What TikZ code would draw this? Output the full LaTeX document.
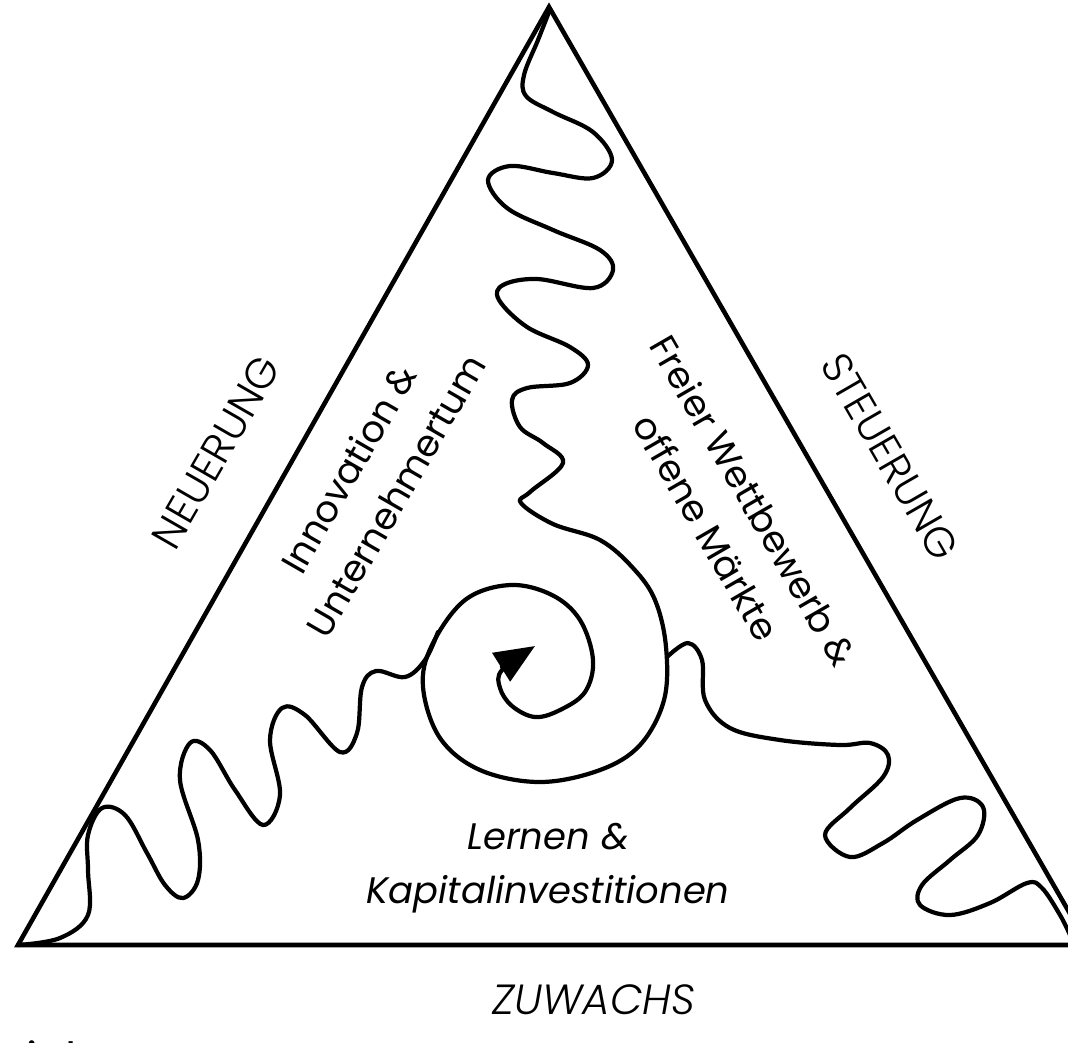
\documentclass[tikz,border=0pt]{standalone}
\usepackage{fontspec}
\setsansfont{Poppins}
\IfFontExistsTF{Poppins Light}
  {\newfontfamily\thinfont{Poppins Light}}
  {\newfontfamily\thinfont{Poppins}}
\usetikzlibrary{arrows.meta}
\tikzset{
  edge/.style={line width=1.3pt,line join=miter},
  wave/.style={line width=1.2pt,line cap=round,line join=round},
  sidelab/.style={font=\thinfont\fontsize{12}{14}\selectfont},
  fieldlab/.style={font=\sffamily\fontsize{10.5}{15.5}\selectfont,align=center},
}

\begin{document}
\begin{tikzpicture}[x=0.01cm,y=-0.01cm]
  \useasboundingbox (0,0) rectangle (1068,1042);
  % Dreieck
  \coordinate (apex) at (549,7);
  \coordinate (bl) at (18,945);
  \coordinate (br) at (1088,945);
  \draw[edge] (apex) -- (bl) -- (br) -- cycle;
  % Welle von oben in die Spirale
  \draw[wave,-{Triangle[length=4mm,width=3.3mm]}] plot[smooth,tension=0.6] coordinates {
    (549,12) (538,40) (524,75) (526,96) (553,112) (593,132) (612,160)
    (593,178) (553,173) (510,166) (488,180) (507,208) (553,230) (600,250)
    (613,270) (593,288) (537,279) (503,285) (499,300) (527,327) (570,347)
    (588,365) (570,383) (527,388) (512,400) (520,427) (543,443) (563,463)
    (530,492) (521,503) (553,524) (600,540) (633,568) (655,600) (666,647)
    (664,700) (640,745) (600,770) (540,782) (480,770) (440,738) (423,687)
    (432,645) (465,600) (510,585) (552,595) (580,620) (593,660) (585,692)
    (560,710) (535,717) (512,706) (500,688) (502,670) (535,646)};
  % Welle links unten
  \draw[wave] plot[smooth,tension=0.6] coordinates {
    (bl) (60,938) (88,915) (88,870) (88,835) (102,808) (125,815) (147,853)
    (165,885) (183,898) (198,880) (198,840) (180,780) (190,743) (210,750)
    (235,790) (263,825) (280,795) (270,740) (282,708) (305,715) (340,752)
    (357,733) (362,687) (376,671) (405,677) (425,660) (438,632)};
  % Welle rechts unten
  \draw[wave] plot[smooth,tension=0.6] coordinates {
    (667,657) (688,643) (702,660) (705,700) (730,728) (780,740) (840,745)
    (870,743) (888,755) (883,777) (850,808) (825,835) (850,857) (883,843)
    (917,820) (960,798) (983,807) (978,835) (950,860) (922,885) (920,905)
    (950,915) (990,903) (1027,883) (1042,888) (1060,915) (1070,935)};
  % Beschriftung
  \node[sidelab,rotate=60] (neu) at (216,452) {NEUERUNG};
  \node[sidelab,rotate=-60] (steu) at (890,457) {STEUERUNG};
  \node[sidelab,font=\thinfont\itshape\fontsize{12}{14}\selectfont] (zuw) at (594,1000) {ZUWACHS};
  \node[fieldlab,rotate=60] (innov) at (372,482) {Innovation \&\\Unternehmertum};
  \node[fieldlab,rotate=-60] (markt) at (730,514) {Freier Wettbewerb \&\\offene Märkte};
  \node[fieldlab,font=\sffamily\itshape\fontsize{10.5}{15.5}\selectfont] (lern) at (548,868) {Lernen \&\\Kapitalinvestitionen};
  \node[font=\sffamily\fontsize{13}{15}\selectfont,anchor=base west] (rest) at (-3,1075) {richt};
\end{tikzpicture}
\end{document}
